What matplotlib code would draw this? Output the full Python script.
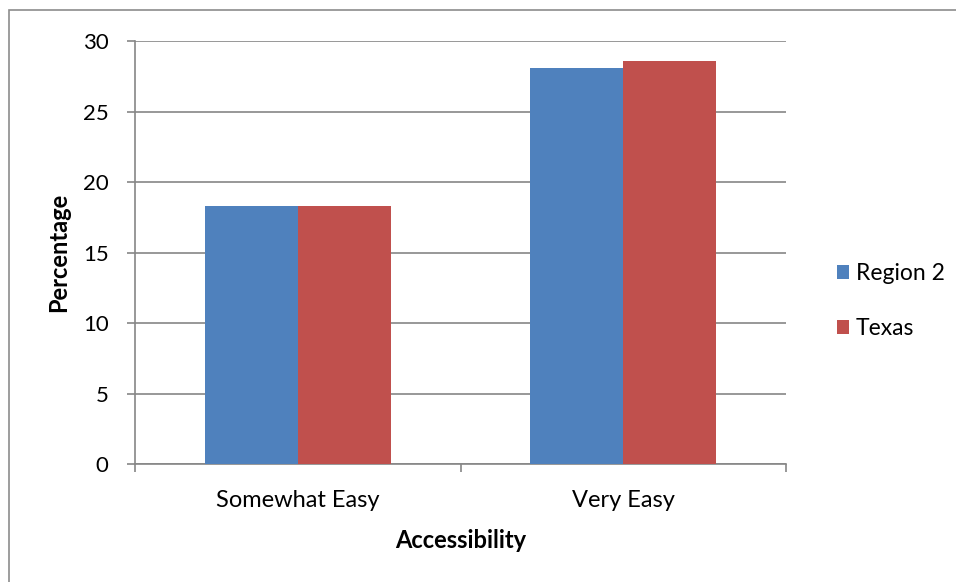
import numpy as np
from matplotlib import pyplot as plt
from matplotlib.patches import Rectangle

categories = ["Somewhat Easy", "Very Easy"]
region2 = [18.3, 28.1]
texas = [18.3, 28.6]
series_names = ["Region 2", "Texas"]
colors = ["#4f81bd", "#c0504d"]

plt.rcParams['font.family'] = ['Lato', 'DejaVu Sans']

fig = plt.figure(figsize=(9.56, 5.82), dpi=100)
ax = fig.add_axes([0.1412, 0.2027, 0.681, 0.7268])

x = np.arange(len(categories))
width = 0.285
ax.bar(x - width / 2, region2, width, color=colors[0], label=series_names[0], zorder=3)
ax.bar(x + width / 2, texas, width, color=colors[1], label=series_names[1], zorder=3)

ax.set_xlim(-0.5, len(categories) - 0.5)
ax.set_ylim(0, 30)
ax.set_yticks(np.arange(0, 31, 5))
ax.yaxis.grid(True, color="#868686", linewidth=1.2, zorder=0)

# category ticks sit on the boundaries, labels in the middle
ax.set_xticks([-0.5, 0.5, 1.5])
ax.set_xticklabels([])
ax.set_xticks(x, minor=True)
ax.set_xticklabels(categories, minor=True)
ax.tick_params(axis="x", which="minor", length=0, pad=19, labelsize=17)
ax.tick_params(axis="x", which="major", length=6, color="#868686", width=1.2)
ax.tick_params(axis="y", length=6, color="#868686", width=1.2, labelsize=16, pad=13)

for side in ["top", "right"]:
    ax.spines[side].set_visible(False)
for side in ["left", "bottom"]:
    ax.spines[side].set_color("#868686")
    ax.spines[side].set_linewidth(1.2)

ax.set_ylabel("Percentage", fontsize=17, fontweight="bold", labelpad=9)
ax.set_xlabel("Accessibility", fontsize=17, fontweight="bold", labelpad=13)

ax.legend(loc="center left", bbox_to_anchor=(1.046, 0.385), frameon=False,
          fontsize=16.5, handlelength=0.55, handleheight=0.55, handletextpad=0.3,
          labelspacing=1.5)

# chart area border
fig.add_artist(Rectangle((9 / 956, -0.1), 1.2, 1.1 - 10 / 582,
                         transform=fig.transFigure, fill=False,
                         edgecolor="#8c8c8c", linewidth=1.2))

fig.savefig("out.png", dpi=100)
